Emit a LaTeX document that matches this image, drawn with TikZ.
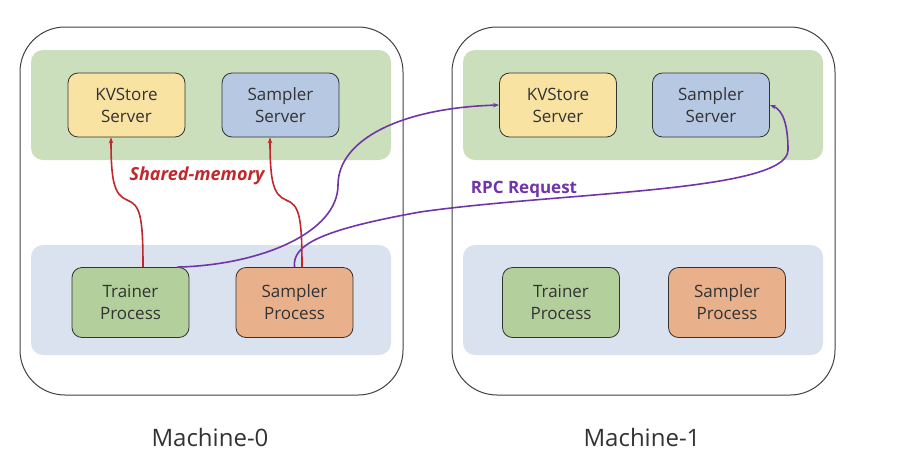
\documentclass[tikz,border=0pt]{standalone}
\usepackage{fontspec}
\setmainfont{Open Sans}
\usetikzlibrary{arrows.meta}

\definecolor{framegray}{HTML}{404040}
\definecolor{textgray}{HTML}{333333}
\definecolor{serverband}{HTML}{CCDFBC}
\definecolor{processband}{HTML}{DAE1EF}
\definecolor{kvfill}{HTML}{F9E3A3}
\definecolor{ssfill}{HTML}{B6C8E2}
\definecolor{trfill}{HTML}{B3CF9B}
\definecolor{spfill}{HTML}{E8B18C}
\definecolor{shmred}{HTML}{C0282C}
\definecolor{rpcpurple}{HTML}{7035A8}

\tikzset{
  machine/.style={draw=framegray, line width=1pt, rounded corners=45pt,
    minimum width=383pt, minimum height=368pt, inner sep=0pt},
  band/.style={fill=#1, rounded corners=12pt, minimum width=360pt,
    minimum height=110pt, inner sep=0pt},
  compbox/.style={draw=textgray, line width=0.8pt, fill=#1, rounded corners=10pt,
    minimum width=117pt, inner sep=0pt, align=center, text=textgray,
    font=\fontsize{17}{22}\selectfont},
  server/.style={compbox=#1, minimum height=64pt},
  process/.style={compbox=#1, minimum height=70pt},
  shm/.style={draw=shmred, line width=1.6pt, -{Stealth[length=6pt,width=4.5pt]}},
  rpc/.style={draw=rpcpurple, line width=1.6pt, -{Stealth[length=6pt,width=4.5pt]}},
  caption/.style={text=textgray, font=\fontsize{24}{28}\selectfont}
}

\begin{document}
\begin{tikzpicture}[x=1pt,y=-1pt]
\useasboundingbox (0,0) rectangle (905,472);

% machine frames
\node[machine] (m0) at (211.5,211) {};
\node[machine] (m1) at (643.5,211) {};

% server and process bands
\node[band=serverband] (sb0) at (211,105) {};
\node[band=processband] (pb0) at (211,300) {};
\node[band=serverband] (sb1) at (643,105) {};
\node[band=processband] (pb1) at (643,300) {};

% machine 0 components
\node[server=kvfill] (kv0) at (126.5,105) {KVStore\\Server};
\node[server=ssfill] (ss0) at (280.5,105) {Sampler\\Server};
\node[process=trfill] (tr0) at (130.5,302.5) {Trainer\\Process};
\node[process=spfill] (sp0) at (294.5,302.5) {Sampler\\Process};

% machine 1 components
\node[server=kvfill] (kv1) at (558,105) {KVStore\\Server};
\node[server=ssfill] (ss1) at (711,105) {Sampler\\Server};
\node[process=trfill] (tr1) at (561,302.5) {Trainer\\Process};
\node[process=spfill] (sp1) at (727,302.5) {Sampler\\Process};

% captions
\node[caption] (c0) at (210,437) {Machine-0};
\node[caption] (c1) at (642,437) {Machine-1};

% shared-memory links inside machine 0
\draw[shm] ([xshift=12.5pt]tr0.north) .. controls (143,215) and (140,205) .. (127,200)
  .. controls (114,195) and (111,180) .. ([xshift=-15.5pt]kv0.south);
\draw[shm] ([xshift=7.5pt]sp0.north) .. controls (302,215) and (299,205) .. (286,200)
  .. controls (273,195) and (270,180) .. ([xshift=-10.5pt]ss0.south);
\node[text=shmred, font=\fontsize{18}{22}\selectfont\bfseries\itshape] (shmlabel) at (197,176) {Shared-memory};

% RPC requests to machine 1
\draw[rpc] ([xshift=46.5pt]tr0.north) .. controls (262,265) and (338,232) .. (338,185)
  .. controls (338,140) and (400,108) .. (kv1.west);
\draw[rpc] (sp0.north) .. controls (292,245) and (320,230) .. (420,212)
  .. controls (560,192) and (788,192) .. (788,150)
  .. controls (788,125) and (783,110) .. (ss1.east);
\node[text=rpcpurple, font=\fontsize{17}{21}\selectfont\bfseries] (rpclabel) at (524,189) {RPC Request};
\end{tikzpicture}
\end{document}
